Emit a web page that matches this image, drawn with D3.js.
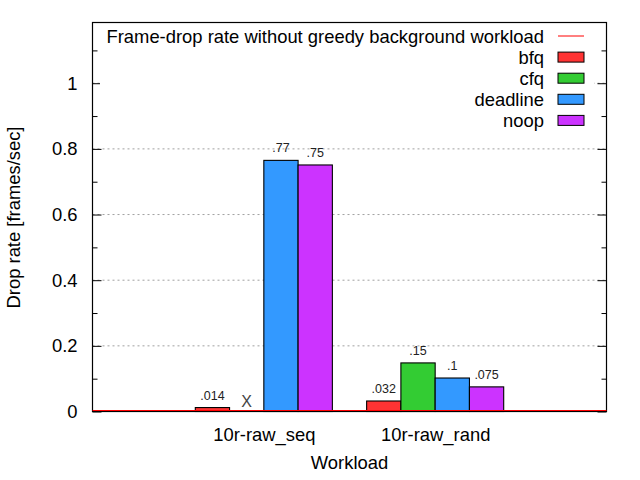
<!DOCTYPE html>
<html lang="en">
<head>
<meta charset="UTF-8">
<title>Frame-drop rate</title>
<script src="https://cdn.jsdelivr.net/npm/d3@7"></script>
<style>
  body { margin: 0; background: #fff; }
  svg text { font-family: "Liberation Sans", Arial, sans-serif; }
</style>
</head>
<body>
<script>
    // workloads on the x axis, one cluster each
    const workloads = ["10r-raw_seq", "10r-raw_rand"]
    const schedulers = ["bfq", "cfq", "deadline", "noop"]
    // values per scheduler, same order as workloads (null = no data, drawn as X)
    const bfq = [0.012, 0.032]
    const cfq = [null, 0.148]
    const deadline = [0.765, 0.102]
    const noop = [0.751, 0.075]
    const bfqLabels = [".014", ".032"]
    const cfqLabels = [null, ".15"]
    const deadlineLabels = [".77", ".1"]
    const noopLabels = [".75", ".075"]
    // reference line: frame-drop rate without greedy background workload
    const noGreedy = [0, 0]
    const yTicks = [0, 0.2, 0.4, 0.6, 0.8, 1]
    const yMinorTicks = [0.1, 0.3, 0.5, 0.7, 0.9, 1.1]

    const series = [bfq, cfq, deadline, noop]
    const seriesLabels = [bfqLabels, cfqLabels, deadlineLabels, noopLabels]
    const colors = ["#ff3333", "#33cc33", "#3399ff", "#cc33ff"]

    const w = 640
    const h = 480
    const m = {left: 92.5, right: 33.5, top: 22.5, bottom: 68.5}
    const fs = "18.4px"

    const svg = d3.select("body").append("svg")
        .attr("width", w)
        .attr("height", h)

    const x = d3.scaleLinear().domain([0, workloads.length + 1]).range([m.left, w - m.right])
    const y = d3.scaleLinear().domain([0, 1.185]).range([h - m.bottom, m.top])
    const barW = 0.2

    //grid
    svg.append("g")
        .selectAll("line")
        .data(yTicks.slice(1))
        .enter()
        .append("line")
        .attr("x1", x.range()[0])
        .attr("x2", x.range()[1])
        .attr("y1", d => y(d))
        .attr("y2", d => y(d))
        .style("stroke", "#a0a0a0")
        .style("stroke-width", 1)
        .style("stroke-dasharray", "2,3")

    //bars
    const rows = []
    series.forEach((s, j) => {
        s.forEach((v, i) => {
            rows.push({j: j, g: i + 1, v: v, label: seriesLabels[j][i]})
        })
    })
    const start = d => d.g - 0.4 + barW * d.j

    svg.append("g")
        .selectAll("rect")
        .data(rows.filter(d => d.v !== null))
        .enter()
        .append("rect")
        .attr("x", d => x(start(d)))
        .attr("y", d => y(d.v))
        .attr("width", d => x(start(d) + barW) - x(start(d)))
        .attr("height", d => y(0) - y(d.v))
        .style("fill", d => colors[d.j])
        .style("stroke", "black")
        .style("stroke-width", 1.1)

    //value labels
    svg.append("g")
        .selectAll("text")
        .data(rows.filter(d => d.v !== null))
        .enter()
        .append("text")
        .attr("x", d => x(start(d) + barW / 2))
        .attr("y", d => y(d.v) - 8)
        .attr("text-anchor", "middle")
        .style("font-size", "12.5px")
        .style("fill", "#222")
        .text(d => d.label)

    //missing data markers
    svg.append("g")
        .selectAll("text")
        .data(rows.filter(d => d.v === null))
        .enter()
        .append("text")
        .attr("x", d => x(start(d) + barW / 2))
        .attr("y", y(0) - 5)
        .attr("text-anchor", "middle")
        .style("font-size", "16px")
        .style("fill", "#444")
        .text("X")

    //axes
    const yAxis = d3.axisLeft(y).tickValues(yTicks).tickSizeInner(-9).tickSizeOuter(0).tickPadding(15)
        .tickFormat(d3.format("~g"))
    const gy = svg.append("g").attr("transform", `translate(${m.left}, 0)`).call(yAxis)
    gy.selectAll("text").style("font-size", fs).style("fill", "black")

    svg.append("g").attr("transform", `translate(${m.left}, 0)`)
        .call(d3.axisLeft(y).tickValues(yMinorTicks).tickSizeInner(-5).tickSizeOuter(0).tickFormat(""))
    svg.append("g").attr("transform", `translate(${w - m.right}, 0)`)
        .call(d3.axisRight(y).tickValues(yTicks).tickSizeInner(-9).tickSizeOuter(0).tickFormat(""))
    svg.append("g").attr("transform", `translate(${w - m.right}, 0)`)
        .call(d3.axisRight(y).tickValues(yMinorTicks).tickSizeInner(-5).tickSizeOuter(0).tickFormat(""))

    const xAxis = d3.axisBottom(x).tickValues(workloads.map((d, i) => i + 1))
        .tickFormat((d, i) => workloads[i]).tickSize(0).tickPadding(16.5)
    const gx = svg.append("g").attr("transform", `translate(0, ${y(0)})`).call(xAxis)
    gx.selectAll("text").style("font-size", fs).style("fill", "black")

    svg.selectAll(".domain").remove()
    svg.selectAll(".tick line").style("stroke", "black")

    //border
    svg.append("rect")
        .attr("x", m.left)
        .attr("y", m.top)
        .attr("width", w - m.left - m.right)
        .attr("height", h - m.top - m.bottom)
        .style("fill", "none")
        .style("stroke", "black")
        .style("stroke-width", 1.2)

    //reference line at the bottom
    svg.append("path")
        .datum(noGreedy)
        .attr("d", d3.line().x((d, i) => x.range()[i]).y(d => y(d) - 1))
        .style("stroke", "#ff0000")
        .style("stroke-width", 1)
        .style("fill", "none")

    //legend
    const legend = svg.append("g").attr("id", "legend")
    legend.append("rect")
        .attr("x", 100).attr("y", 25).attr("width", 494).attr("height", 106)
        .style("fill", "white")
    const keys = ["Frame-drop rate without greedy background workload"].concat(schedulers)
    keys.forEach((k, i) => {
        const cy = 36 + i * 21.1
        legend.append("text")
            .attr("x", 544).attr("y", cy + 6.5)
            .attr("text-anchor", "end")
            .style("font-size", fs)
            .text(k)
        if (i === 0) {
            legend.append("line")
                .attr("x1", 558).attr("x2", 584).attr("y1", cy).attr("y2", cy)
                .style("stroke", "#ff0000")
        } else {
            legend.append("rect")
                .attr("x", 558).attr("y", cy - 5).attr("width", 26).attr("height", 10)
                .style("fill", colors[i - 1])
                .style("stroke", "black")
        }
    })

    //axis labels
    svg.append("text")
        .attr("transform", "rotate(-90)")
        .attr("x", -217.5)
        .attr("y", 20)
        .attr("text-anchor", "middle")
        .style("font-size", fs)
        .text("Drop rate [frames/sec]")

    svg.append("text")
        .attr("x", (m.left + w - m.right) / 2)
        .attr("y", 469)
        .attr("text-anchor", "middle")
        .style("font-size", fs)
        .text("Workload")
</script>
</body>
</html>
